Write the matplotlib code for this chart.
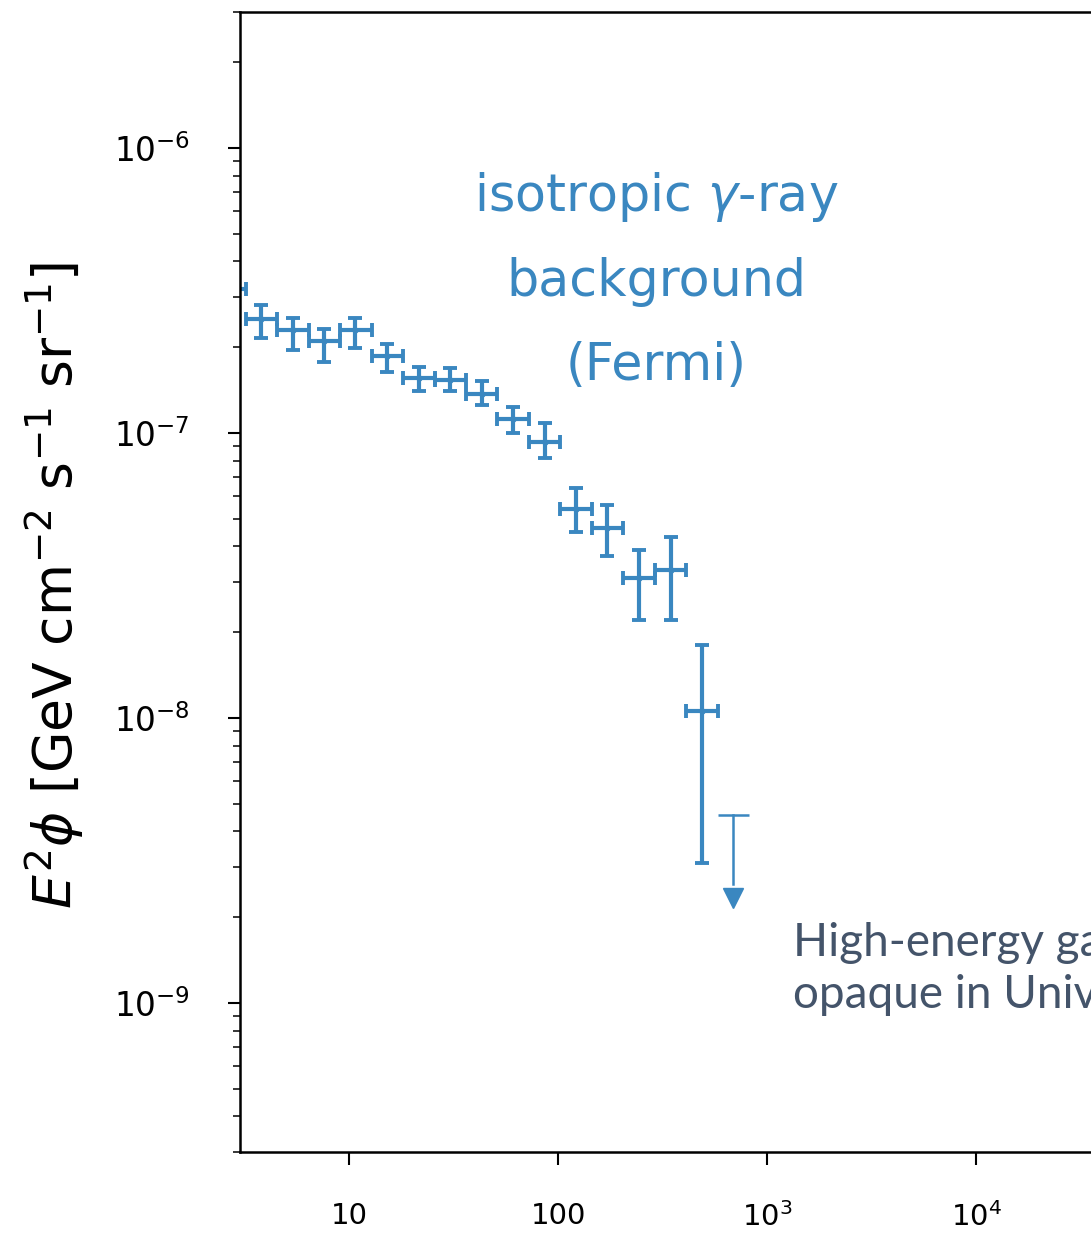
import numpy as np
import matplotlib
matplotlib.use("Agg")
import matplotlib.pyplot as plt

# ---- data (Fermi isotropic gamma-ray background) ----
energy = [2.69, 3.79, 5.36, 7.58, 10.7, 15.2, 21.5, 30.4, 43.0, 60.9, 86.1,
          122, 172, 243, 345, 487]                       # GeV, bin centres
e_low = [2.26, 3.20, 4.53, 6.40, 9.06, 12.8, 18.1, 25.6, 36.2, 51.2, 72.5,
         102.5, 145, 205, 290, 410]                      # bin lower edges
e_high = [3.20, 4.53, 6.40, 9.06, 12.8, 18.1, 25.6, 36.2, 51.2, 72.5, 102.5,
          145, 205, 290, 410, 580]                       # bin upper edges
flux = [3.21e-7, 2.52e-7, 2.29e-7, 2.11e-7, 2.29e-7, 1.87e-7, 1.56e-7,
        1.54e-7, 1.37e-7, 1.12e-7, 9.3e-8, 5.4e-8, 4.65e-8, 3.1e-8,
        3.3e-8, 1.06e-8]
flux_lo = [2.9e-7, 2.16e-7, 1.96e-7, 1.78e-7, 1.98e-7, 1.64e-7, 1.40e-7,
           1.40e-7, 1.25e-7, 1.00e-7, 8.2e-8, 4.48e-8, 3.70e-8, 2.21e-8,
           2.21e-8, 3.1e-9]
flux_hi = [3.5e-7, 2.81e-7, 2.53e-7, 2.31e-7, 2.53e-7, 2.06e-7, 1.71e-7,
           1.69e-7, 1.52e-7, 1.23e-7, 1.08e-7, 6.4e-8, 5.6e-8, 3.9e-8,
           4.3e-8, 1.8e-8]

ul_energy = [687]
ul_e_low = [580]
ul_e_high = [820]
ul_flux = [4.58e-9]
ul_arrow_end = [2.33e-9]

xtick_values = [10, 100, 1000, 10000]
xtick_labels = ["10", "100", "$10^3$", "$10^4$"]
ytick_values = [1e-9, 1e-8, 1e-7, 1e-6]

blue = "#3a87c0"

# ---- figure ----
W, H = 1091, 1242
fig = plt.figure(figsize=(W / 100, H / 100), dpi=100)
ax_left, ax_top, ax_bottom = 240, 12, 1152
ax_w = 945
ax = fig.add_axes([ax_left / W, (H - ax_bottom) / H, ax_w / W, (ax_bottom - ax_top) / H])
ax.set_xscale("log")
ax.set_yscale("log")
ax.set_xlim(3, 1e5)
ax.set_ylim(3e-10, 3e-6)

E = np.array(energy)
F = np.array(flux)
xerr = [E - np.array(e_low), np.array(e_high) - E]
yerr = [F - np.array(flux_lo), np.array(flux_hi) - F]
ax.errorbar(E, F, xerr=xerr, yerr=yerr, fmt=".", ms=7, color=blue,
            elinewidth=3.0, capsize=5.0, capthick=2.8)

# upper limit
Eu = np.array(ul_energy)
Fu = np.array(ul_flux)
ax.errorbar(Eu, Fu, xerr=[Eu - np.array(ul_e_low), np.array(ul_e_high) - Eu],
            fmt="none", color=blue, elinewidth=1.8, capsize=0)
for e, f, fa in zip(ul_energy, ul_flux, ul_arrow_end):
    ax.plot([e, e], [f, fa * 1.12], color=blue, lw=1.8)
    ax.plot([e], [fa], marker="v", ms=15, color=blue, mec=blue, ls="none")

ax.text(294, 3.43e-7, "isotropic $\\gamma$-ray\nbackground\n(Fermi)",
        color=blue, fontsize=36.5, ha="center", va="center", linespacing=1.85,
        multialignment="center")

# ticks
ax.set_xticks(xtick_values)
ax.set_xticklabels(xtick_labels)
ax.xaxis.set_minor_locator(matplotlib.ticker.NullLocator())
ax.set_yticks(ytick_values)
ax.tick_params(axis="both", which="major", length=9, width=1.5, pad=27)
ax.tick_params(axis="x", which="major", labelsize=21)
ax.tick_params(axis="y", which="major", labelsize=23.5)
ax.tick_params(axis="y", which="minor", length=5, width=1.1, labelleft=False)
for s in ax.spines.values():
    s.set_linewidth(1.8)

ax.set_ylabel("$E^2\\phi$ [GeV cm$^{-2}$ s$^{-1}$ sr$^{-1}$]", fontsize=38.5)
ax.yaxis.set_label_coords((86 - ax_left) / ax_w, 0.497)

fig.text(793 / W, 1 - 922 / H, "High-energy gamma rays\nopaque in Universe",
         color="#44546a", fontsize=33, family="Lato", ha="left", va="top",
         linespacing=1.3)

fig.savefig("out.png", dpi=100)
